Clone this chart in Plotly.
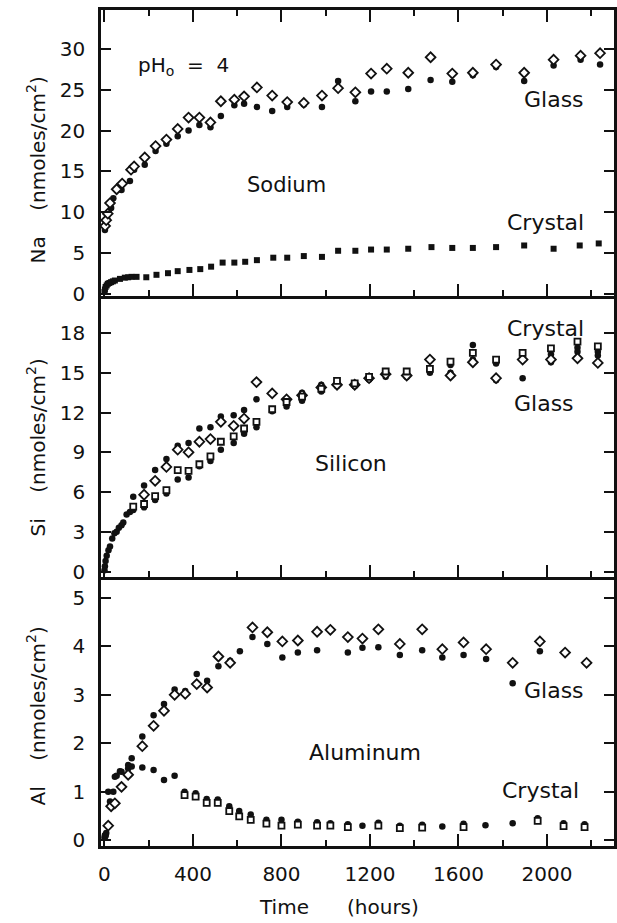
import plotly.graph_objects as go

# ---------------- data ----------------
# Sodium
na_glass_open_t = [3, 8, 15, 25, 55, 80, 120, 134, 182, 231, 280, 331, 380, 429, 479, 526, 587, 631, 689, 758, 826,
                   901, 983, 1056, 1134, 1205, 1276, 1373, 1474, 1572, 1665, 1770, 1897, 2030, 2152, 2240]
na_glass_open_v = [8.3, 9.0, 9.8, 11.1, 12.8, 13.5, 15.2, 15.6, 16.7, 18.1, 18.9, 20.2, 21.6, 21.6, 21.0, 23.6, 23.8,
                   24.2, 25.3, 24.3, 23.5, 23.4, 24.3, 25.2, 24.7, 27.0, 27.6, 27.1, 29.0, 27.0, 27.1, 28.1, 27.1,
                   28.7, 29.2, 29.5]
na_glass_fill_t = [2, 6, 12, 20, 30, 40, 77, 115, 134, 182, 231, 280, 331, 380, 429, 479, 526, 587, 631, 689, 758, 826,
                   901, 983, 1056, 1134, 1205, 1276, 1373, 1474, 1572, 1665, 1770, 1897, 2030, 2152, 2240]
na_glass_fill_v = [7.8, 8.5, 9.2, 10.0, 10.5, 11.7, 12.7, 13.8, 15.2, 15.8, 17.5, 18.4, 19.3, 20.0, 20.7, 20.4, 21.8,
                   23.1, 23.3, 22.9, 22.4, 22.9, 23.2, 22.9, 26.1, 23.6, 24.8, 24.8, 25.1, 26.2, 26.0, 26.8, 27.8,
                   26.1, 28.0, 28.7, 28.1]
na_cryst_t = [0, 2, 5, 10, 15, 22, 30, 38, 47, 70, 92, 107, 122, 145, 189, 235, 287, 331, 384, 433, 482, 534, 587, 636,
              689, 763, 826, 901, 983, 1056, 1134, 1205, 1276, 1373, 1478, 1572, 1665, 1770, 1897, 2030, 2148, 2234]
na_cryst_v = [0.2, 0.5, 0.8, 1.0, 1.2, 1.3, 1.4, 1.5, 1.6, 1.8, 1.95, 2.0, 2.05, 2.05, 2.0, 2.3, 2.5, 2.75, 2.9, 3.0,
              3.3, 3.8, 3.8, 3.9, 4.1, 4.4, 4.4, 4.6, 4.5, 5.25, 5.25, 5.4, 5.4, 5.5, 5.7, 5.6, 5.6, 5.7, 5.9, 5.5,
              5.9, 6.15]

# Silicon
si_early_t = [0, 2, 5, 10, 18, 25, 35, 45, 55, 65, 77, 85, 100, 115]
si_early_v = [0.1, 0.4, 0.8, 1.2, 1.6, 1.9, 2.5, 2.9, 3.0, 3.3, 3.5, 3.7, 4.3, 4.5]
si_t = [130, 179, 229, 280, 331, 380, 429, 479, 526, 584, 631, 687, 758, 823, 893, 980, 1051, 1131, 1196, 1271,
        1366, 1471, 1564, 1665, 1770, 1890, 2018, 2138, 2230]
si_glass_fill_v = [5.65, 6.5, 7.66, 8.5, 9.5, 9.7, 10.8, 10.9, 11.7, 11.8, 12.2, 13.0, 12.2, 12.9, 13.5, 14.1, 14.0,
                   14.0, 14.5, 14.7, 14.7, 15.0, 15.0, 17.1, 14.45, 14.6, 15.8, 16.6, 16.3]
si_glass_open_t = [179, 229, 280, 331, 380, 429, 479, 526, 584, 631, 687, 758, 823, 893, 980, 1051, 1131, 1196, 1271,
                   1366, 1471, 1564, 1665, 1770, 1890, 2018, 2138, 2230]
si_glass_open_v = [5.8, 6.85, 7.9, 9.2, 9.0, 9.8, 10.0, 11.3, 11.0, 11.55, 14.3, 13.45, 13.0, 13.3, 13.9, 14.1, 14.1,
                   14.6, 14.9, 14.8, 16.0, 14.8, 15.8, 14.6, 16.0, 16.0, 16.1, 15.75]
si_cryst_open_v = [4.9, 5.1, 5.7, 6.15, 7.66, 7.6, 8.1, 8.7, 9.8, 10.2, 10.8, 11.3, 12.25, 12.8, 13.2, 13.8, 14.4,
                   14.2, 14.7, 15.1, 15.1, 15.3, 15.85, 16.5, 16.0, 16.5, 16.85, 17.35, 17.0]
si_cryst_fill_v = [4.65, 4.85, 5.4, 5.9, 6.95, 7.1, 7.95, 8.35, 9.2, 9.7, 10.4, 10.9, 12.1, 12.45, 12.9, 13.6, 14.2,
                   14.0, 14.5, 14.9, 14.7, 15.2, 15.6, 16.0, 15.7, 16.2, 16.4, 16.9, 16.6]

# Aluminum
al_glass_fill_t = [5, 17, 25, 40, 55, 77, 107, 123, 171, 222, 269, 317, 365, 417, 464, 515, 568, 612, 669, 736, 804,
                   874, 961, 1100, 1166, 1238, 1335, 1436, 1527, 1623, 1725, 1845, 1968]
al_glass_fill_v = [0.1, 0.32, 0.8, 1.0, 1.33, 1.41, 1.55, 1.69, 2.14, 2.58, 2.81, 3.11, 3.08, 3.43, 3.29, 3.59, 3.70,
                   3.90, 4.19, 4.05, 3.77, 3.87, 3.92, 3.87, 3.97, 3.98, 3.82, 3.92, 3.77, 3.82, 3.74, 3.24, 3.90]
al_glass_open_t = [17, 30, 47, 77, 107, 171, 222, 269, 317, 365, 417, 464, 515, 568, 669, 736, 804, 874, 961, 1021,
                   1100, 1166, 1238, 1335, 1436, 1527, 1623, 1725, 1845, 1968, 2082, 2179]
al_glass_open_v = [0.3, 0.7, 0.76, 1.10, 1.35, 1.94, 2.36, 2.67, 3.0, 3.02, 3.22, 3.15, 3.79, 3.66, 4.39, 4.29, 4.10,
                   4.12, 4.30, 4.34, 4.19, 4.16, 4.35, 4.05, 4.35, 3.94, 4.08, 3.94, 3.66, 4.10, 3.87, 3.66]
al_cryst_fill_t = [0, 2, 4, 8, 17, 47, 70, 107, 123, 171, 222, 269, 317, 362, 412, 462, 512, 564, 609, 661, 732, 800,
                   874, 961, 1021, 1100, 1166, 1238, 1335, 1436, 1527, 1623, 1722, 1845, 1958, 2075, 2170]
al_cryst_fill_v = [0.05, 0.1, 0.08, 0.15, 1.0, 1.31, 1.42, 1.48, 1.52, 1.50, 1.45, 1.24, 1.33, 1.0, 0.97, 0.85, 0.84,
                   0.70, 0.60, 0.53, 0.42, 0.42, 0.38, 0.37, 0.35, 0.33, 0.30, 0.36, 0.30, 0.32, 0.28, 0.34, 0.31,
                   0.35, 0.45, 0.35, 0.33]
al_cryst_open_t = [362, 412, 462, 512, 564, 609, 661, 732, 800, 874, 961, 1021, 1100, 1238, 1335, 1436, 1623, 1958,
                   2075, 2170]
al_cryst_open_v = [0.93, 0.90, 0.77, 0.77, 0.60, 0.49, 0.42, 0.34, 0.30, 0.32, 0.30, 0.30, 0.27, 0.30, 0.25, 0.26,
                   0.27, 0.40, 0.29, 0.27]

x_ticks = [0, 400, 800, 1200, 1600, 2000]
na_ticks = [0, 5, 10, 15, 20, 25, 30]
si_ticks = [0, 3, 6, 9, 12, 15, 18]
al_ticks = [0, 1, 2, 3, 4, 5]

# ---------------- layout geometry ----------------
W, H = 617, 923
ML, MR, MT, MB = 101, 0, 10, 77
PW, PH = W - ML - MR, H - MT - MB


def px_x(p):
    return (p - ML) / PW


def px_y(p):
    return (H - MB - p) / PH


FONT = "DejaVu Sans"
INK = "#111111"

fig = go.Figure()

filled = dict(symbol="circle", size=6.5, color=INK, line=dict(width=0))
filled_sq = dict(symbol="square", size=6, color=INK, line=dict(width=0))
open_dia = dict(symbol="diamond", size=7.5, color="white", line=dict(width=1.8, color=INK))
open_sq = dict(symbol="square", size=6, color="white", line=dict(width=1.8, color=INK))


def add(t, v, marker, ax):
    fig.add_trace(go.Scatter(x=t, y=v, mode="markers", marker=marker, xaxis="x" + ax, yaxis="y" + ax,
                             showlegend=False, hoverinfo="skip"))


# Na (top panel)
add(na_cryst_t, na_cryst_v, filled_sq, "")
add(na_glass_fill_t, na_glass_fill_v, filled, "")
add(na_glass_open_t, na_glass_open_v, open_dia, "")
# Si
add(si_early_t, si_early_v, filled, "2")
add(si_t, si_cryst_fill_v, filled, "2")
add(si_t, si_glass_fill_v, filled, "2")
add(si_glass_open_t, si_glass_open_v, open_dia, "2")
add(si_t, si_cryst_open_v, open_sq, "2")
# Al
add(al_cryst_fill_t, al_cryst_fill_v, filled, "3")
add(al_cryst_open_t, al_cryst_open_v, open_sq, "3")
add(al_glass_fill_t, al_glass_fill_v, filled, "3")
add(al_glass_open_t, al_glass_open_v, open_dia, "3")

x_range = [-15.7, 2303]
tickfont = dict(family=FONT, size=20, color=INK)


def xaxis(anchor, show_labels, mirror):
    return dict(range=x_range, domain=[0, 1], anchor=anchor, tickmode="array", tickvals=x_ticks,
                ticktext=[str(v) for v in x_ticks], showticklabels=show_labels, ticks="inside", ticklen=12,
                tickwidth=2, tickcolor=INK, showline=True, linewidth=2.5, linecolor=INK, mirror=mirror,
                showgrid=False, zeroline=False, tickfont=tickfont, ticklabelstandoff=8,
                minor=dict(dtick=200, tick0=0, ticks="inside", ticklen=6, tickwidth=2, tickcolor=INK))


def yaxis(anchor, rng, dom, ticks):
    return dict(range=rng, domain=dom, anchor=anchor, tickmode="array", tickvals=ticks,
                ticktext=[str(v) for v in ticks], ticks="inside", ticklen=10, tickwidth=2, tickcolor=INK,
                showline=True, linewidth=2.5, linecolor=INK, mirror="allticks", showgrid=False, zeroline=False,
                tickfont=tickfont, ticklabelstandoff=9)


na_dom = [px_y(296), 1]
si_dom = [px_y(577), px_y(296)]
al_dom = [0, px_y(577)]

fig.update_layout(
    width=W, height=H, margin=dict(l=ML, r=MR, t=MT, b=MB),
    paper_bgcolor="white", plot_bgcolor="white", showlegend=False,
    xaxis=xaxis("y", False, "allticks"),
    xaxis2=xaxis("y2", False, False),
    xaxis3=xaxis("y3", True, False),
    yaxis=yaxis("x", [-0.3, 34.8], na_dom, na_ticks),
    yaxis2=yaxis("x2", [-0.41, 20.8], si_dom, si_ticks),
    yaxis3=yaxis("x3", [-0.12, 5.43], al_dom, al_ticks),
)

ann = []


def text(s, x, y, size=22, xanchor="center", angle=0):
    ann.append(dict(text=s, x=px_x(x), y=px_y(y), xref="paper", yref="paper", showarrow=False,
                    xanchor=xanchor, yanchor="middle", textangle=angle,
                    font=dict(family=FONT, size=size, color=INK)))


text("Na&nbsp;&nbsp;&nbsp;&nbsp;(nmoles/cm<sup>2</sup>)", 36, 170, 20, angle=-90)
text("Si&nbsp;&nbsp;&nbsp;&nbsp;(nmoles/cm<sup>2</sup>)", 36, 447, 20, angle=-90)
text("Al&nbsp;&nbsp;&nbsp;&nbsp;(nmoles/cm<sup>2</sup>)", 36, 716, 20, angle=-90)
text("pH<sub>o</sub>&nbsp;&nbsp;=&nbsp;&nbsp;4", 136, 66, 20, xanchor="left")
text("Sodium", 288, 185, 21)
text("Glass", 557, 100, 22)
text("Crystal", 548, 222, 22)
text("Crystal", 548, 328, 22)
text("Glass", 547, 403, 22)
text("Silicon", 352, 463, 22)
text("Glass", 557, 690, 22)
text("Aluminum", 367, 752, 22)
text("Crystal", 543, 790, 22)
text("Time", 285, 907, 20)
text("(hours)", 385, 907, 20)

fig.update_layout(annotations=ann)
fig.write_html("out.html")
